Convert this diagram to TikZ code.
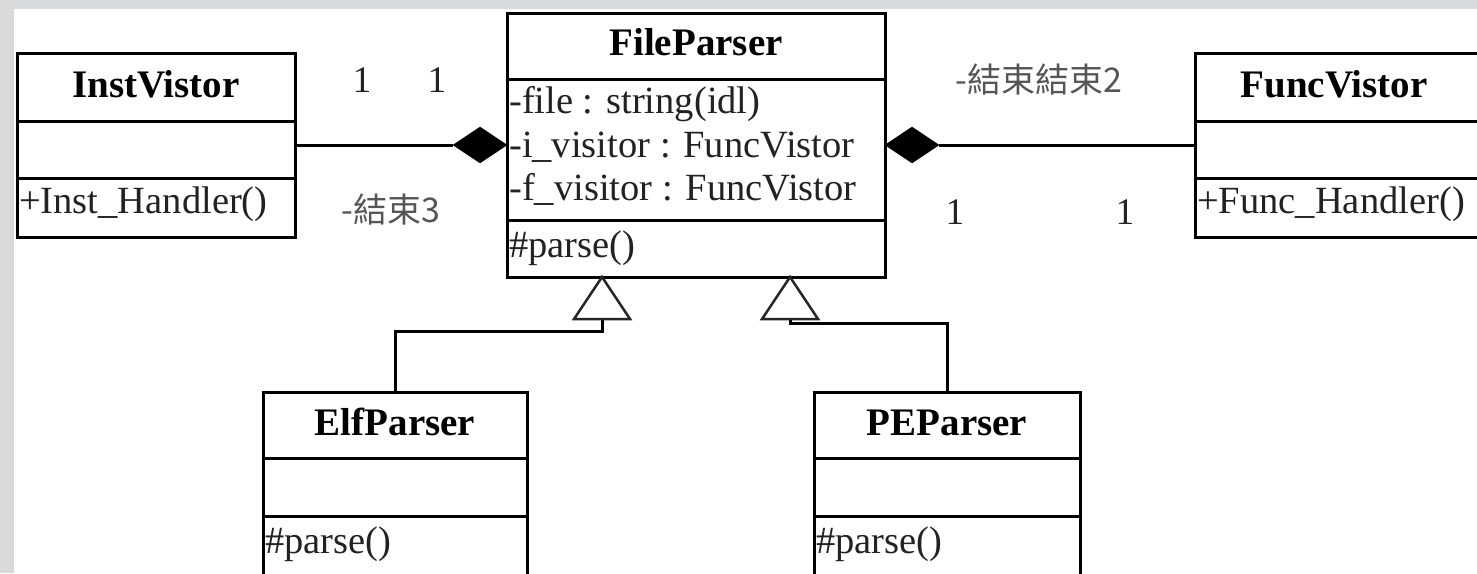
\documentclass[tikz,border=0pt]{standalone}
\usepackage{fontspec}
\setmainfont{Liberation Serif}
\newfontfamily\cjk{Noto Sans CJK TC}
\usetikzlibrary{shapes.geometric}
\definecolor{framegray}{HTML}{D9DADC}
\definecolor{txtgray}{HTML}{222222}
\definecolor{lblgray}{HTML}{555555}
\tikzset{
  classbox/.style={draw=black, line width=3pt, fill=white, rectangle, inner sep=0pt, outer sep=0pt, anchor=north west},
  sepline/.style={draw=black, line width=3pt},
  title/.style={font=\fontsize{39}{44}\selectfont\bfseries, anchor=base, inner sep=0pt, text=black},
  member/.style={font=\fontsize{38.5}{42}\selectfont, anchor=base west, inner sep=0pt, text=txtgray},
  mult/.style={font=\fontsize{37.5}{42}\selectfont, inner sep=0pt, text=txtgray},
  role/.style={font=\cjk\fontsize{34}{40}\selectfont, inner sep=0pt, text=lblgray},
  comp/.style={diamond, draw=black, fill=black, inner sep=0pt, outer sep=0pt, minimum width=54, minimum height=36},
  link/.style={draw=black, line width=3pt},
  gen/.style={draw=black!85, line width=2.5pt, fill=white, line join=miter},
}
\begin{document}
\begin{tikzpicture}[x=1pt,y=-1pt]
\useasboundingbox (0,0) rectangle (1477,573);
\clip (0,0) rectangle (1477,573);
\fill[framegray] (0,0) rectangle (1477,573);
\fill[white] (14,9) rectangle (1477,573);

% InstVistor
\node[classbox, minimum width=278, minimum height=184] (iv) at (17,53) {};
\draw[sepline] (17,121) -- (295,121);
\draw[sepline] (17,178) -- (295,178);
\node[title] (ivt) at (156,97) {InstVistor};
\node[member] (ivm) at (19,213) {+Inst\_Handler()};

% FileParser
\node[classbox, minimum width=378, minimum height=264] (fp) at (507,13) {};
\draw[sepline] (507,79) -- (885,79);
\draw[sepline] (507,220) -- (885,220);
\node[title] (fpt) at (696,55) {FileParser};
\node[member] (fpa1) at (509,113) {-file : string(idl)};
\node[member] (fpa2) at (509,157) {-i\_visitor : FuncVistor};
\node[member] (fpa3) at (509,200) {-f\_visitor : FuncVistor};
\node[member] (fpm) at (509,257) {\#parse()};

% FuncVistor
\node[classbox, minimum width=300, minimum height=184] (fv) at (1195,53) {};
\draw[sepline] (1195,121) -- (1495,121);
\draw[sepline] (1195,178) -- (1495,178);
\node[title] (fvt) at (1334,97) {FuncVistor};
\node[member] (fvm) at (1197,213) {+Func\_Handler()};

% ElfParser
\node[classbox, minimum width=264, minimum height=200] (ep) at (263,392) {};
\draw[sepline] (263,458) -- (527,458);
\draw[sepline] (263,516) -- (527,516);
\node[title] (ept) at (395,435) {ElfParser};
\node[member] (epm) at (265,553) {\#parse()};

% PEParser
\node[classbox, minimum width=266, minimum height=200] (pe) at (814,392) {};
\draw[sepline] (814,458) -- (1080,458);
\draw[sepline] (814,516) -- (1080,516);
\node[title] (pet) at (947,435) {PEParser};
\node[member] (pem) at (816,553) {\#parse()};

% compositions
\node[comp] (dl) at (480,145) {};
\node[comp] (dr) at (912,145) {};
\draw[link] (iv.east |- dl.west) -- (dl.west);
\draw[link] (dr.east) -- (fv.west |- dr.east);

% multiplicities and roles
\node[mult] (m1) at (362,80) {1};
\node[mult] (m2) at (437,80) {1};
\node[role] (r3) at (391,210) {-結束3};
\node[role] (r2) at (1039,80) {-結束結束2};
\node[mult] (m3) at (955,212) {1};
\node[mult] (m4) at (1125,212) {1};

% generalizations
\coordinate (t1) at (602,277);
\coordinate (t1b) at (602,319);
\coordinate (t2) at (790,277);
\coordinate (t2b) at (790,319);
\draw[link] (t1b) -- ++(0,12) -| (ep.north);
\draw[link] (t2b) -- ++(0,4) -| (pe.north);
\draw[gen] (t1) -- ++(-28,42) -- ++(56,0) -- cycle;
\draw[gen] (t2) -- ++(-28,42) -- ++(56,0) -- cycle;
\end{tikzpicture}
\end{document}
